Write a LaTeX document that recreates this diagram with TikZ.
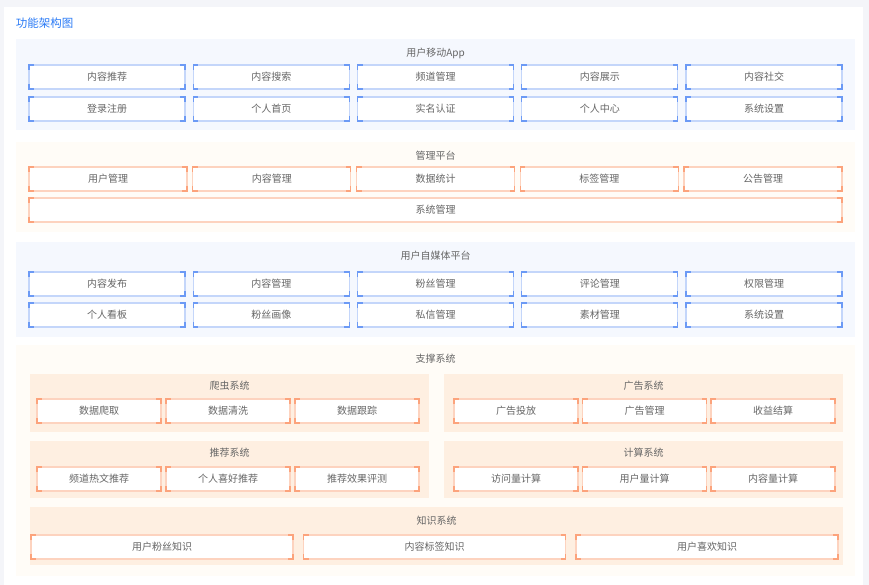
\documentclass[tikz,border=0pt]{standalone}
\usepackage{fontspec}
\setmainfont{Noto Sans CJK SC}
\definecolor{pagebg}{HTML}{F4F5F9}
\definecolor{bluepanel}{HTML}{F5F8FE}
\definecolor{blueborder}{HTML}{C4D6FA}
\definecolor{bluecorner}{HTML}{6C9AF5}
\definecolor{orpanel}{HTML}{FFFCF7}
\definecolor{orsub}{HTML}{FEEFE1}
\definecolor{orborder}{HTML}{FDD3BF}
\definecolor{orcorner}{HTML}{FCA37C}
\definecolor{txt}{HTML}{666666}
\definecolor{titleblue}{HTML}{2B7BF6}
\begin{document}
\begin{tikzpicture}[x=1pt,y=-1pt,
  every node/.style={inner sep=0pt,outer sep=0pt,text=txt,font=\fontsize{10pt}{12pt}\selectfont},
  bbox/.style={draw=blueborder,line width=1.2pt,fill=white,anchor=north west,minimum height=24pt},
  obox/.style={draw=orborder,line width=1.2pt,fill=white,anchor=north west,minimum height=24pt},
  ptitle/.style={anchor=center},
  bcl/.style={draw=bluecorner,line width=1.3pt},
  ocl/.style={draw=orcorner,line width=1.3pt}]
\useasboundingbox (0,0) rectangle (869,585);
\fill[pagebg] (0,0) rectangle (869,585);
\fill[white] (4,7) rectangle (863,585);
\node[anchor=west,text=titleblue,font=\fontsize{11.5pt}{13pt}\selectfont] (title) at (16,23) {功能架构图};

% ---------- panel 1
\fill[bluepanel] (16,39) rectangle (855,130);
\node[ptitle] (p1t) at (435.5,53) {用户移动App};
\foreach \t [count=\i] in {内容推荐,内容搜索,频道管理,内容展示,内容社交}
  \node[bbox,minimum width=156pt] (a\i) at ({29+164.25*(\i-1)},65) {\t};
\foreach \t [count=\i] in {登录注册,个人首页,实名认证,个人中心,系统设置}
  \node[bbox,minimum width=156pt] (b\i) at ({29+164.25*(\i-1)},97) {\t};

% ---------- panel 2
\fill[orpanel] (16,142) rectangle (855,232);
\node[ptitle] (p2t) at (435.5,156) {管理平台};
\foreach \t [count=\i] in {用户管理,内容管理,数据统计,标签管理,公告管理}
  \node[obox,minimum width=158pt] (c\i) at ({29+163.75*(\i-1)},167) {\t};
\node[obox,minimum width=813pt] (d1) at (29,198) {系统管理};

% ---------- panel 3
\fill[bluepanel] (16,242) rectangle (855,337);
\node[ptitle] (p3t) at (435.5,256) {用户自媒体平台};
\foreach \t [count=\i] in {内容发布,内容管理,粉丝管理,评论管理,权限管理}
  \node[bbox,minimum width=156pt] (e\i) at ({29+164.25*(\i-1)},272) {\t};
\foreach \t [count=\i] in {个人看板,粉丝画像,私信管理,素材管理,系统设置}
  \node[bbox,minimum width=156pt] (f\i) at ({29+164.25*(\i-1)},303) {\t};

% ---------- panel 4
\fill[orpanel] (16,345) rectangle (855,576);
\node[ptitle] (p4t) at (435.5,359) {支撑系统};
\fill[orsub] (30,374) rectangle (429,432);
\fill[orsub] (444,374) rectangle (843,432);
\fill[orsub] (30,441) rectangle (429,498);
\fill[orsub] (444,441) rectangle (843,498);
\fill[orsub] (30,507) rectangle (843,565);
\node[ptitle] (s1t) at (229.5,386) {爬虫系统};
\node[ptitle] (s2t) at (643.5,386) {广告系统};
\node[ptitle] (s3t) at (229.5,453) {推荐系统};
\node[ptitle] (s4t) at (643.5,453) {计算系统};
\node[ptitle] (s5t) at (436.5,521) {知识系统};
\foreach \t [count=\i] in {数据爬取,数据清洗,数据跟踪}
  \node[obox,minimum width=124pt] (g\i) at ({37+129*(\i-1)},399) {\t};
\foreach \t [count=\i] in {广告投放,广告管理,收益结算}
  \node[obox,minimum width=124pt] (h\i) at ({454+128.5*(\i-1)},399) {\t};
\foreach \t [count=\i] in {频道热文推荐,个人喜好推荐,推荐效果评测}
  \node[obox,minimum width=124pt] (k\i) at ({37+129*(\i-1)},467) {\t};
\foreach \t [count=\i] in {访问量计算,用户量计算,内容量计算}
  \node[obox,minimum width=124pt] (m\i) at ({454+128.5*(\i-1)},467) {\t};
\foreach \t [count=\i] in {用户粉丝知识,内容标签知识,用户喜欢知识}
  \node[obox,minimum width=262pt] (n\i) at ({31+272.5*(\i-1)},535) {\t};

% ---------- corner brackets
\foreach \n in {a1,a2,a3,a4,a5,b1,b2,b3,b4,b5,e1,e2,e3,e4,e5,f1,f2,f3,f4,f5}{
  \draw[bcl] ([yshift=-5pt]\n.north west) -- (\n.north west) -- ([xshift=5pt]\n.north west);
  \draw[bcl] ([yshift=-5pt]\n.north east) -- (\n.north east) -- ([xshift=-5pt]\n.north east);
  \draw[bcl] ([yshift=5pt]\n.south west) -- (\n.south west) -- ([xshift=5pt]\n.south west);
  \draw[bcl] ([yshift=5pt]\n.south east) -- (\n.south east) -- ([xshift=-5pt]\n.south east);
}
\foreach \n in {c1,c2,c3,c4,c5,d1,g1,g2,g3,h1,h2,h3,k1,k2,k3,m1,m2,m3,n1,n2,n3}{
  \draw[ocl] ([yshift=-5pt]\n.north west) -- (\n.north west) -- ([xshift=5pt]\n.north west);
  \draw[ocl] ([yshift=-5pt]\n.north east) -- (\n.north east) -- ([xshift=-5pt]\n.north east);
  \draw[ocl] ([yshift=5pt]\n.south west) -- (\n.south west) -- ([xshift=5pt]\n.south west);
  \draw[ocl] ([yshift=5pt]\n.south east) -- (\n.south east) -- ([xshift=-5pt]\n.south east);
}
\end{tikzpicture}
\end{document}
